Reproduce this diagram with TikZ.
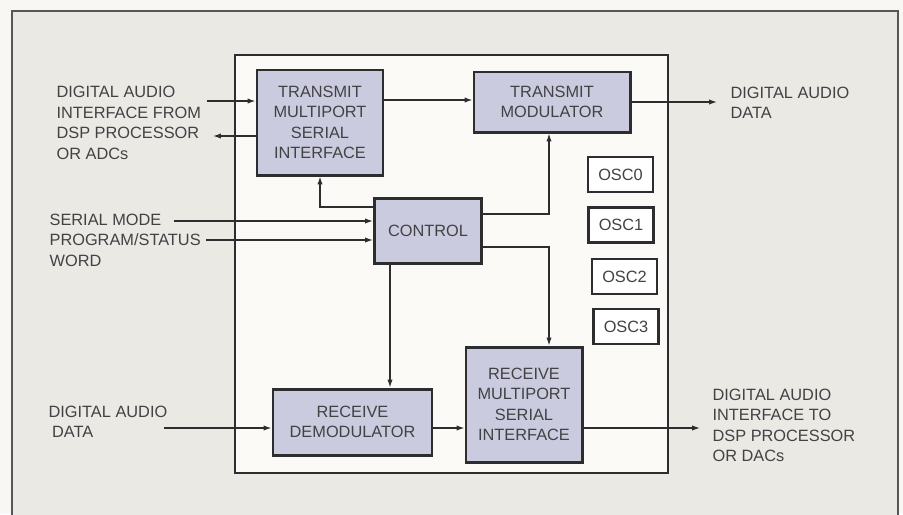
\documentclass[tikz,border=0pt]{standalone}
\usepackage{fontspec}
\setmainfont{Liberation Sans}
\usetikzlibrary{arrows.meta}

\definecolor{paper}{RGB}{248,247,243}
\definecolor{panel}{RGB}{235,233,228}
\definecolor{chipfill}{RGB}{251,250,246}
\definecolor{blockfill}{RGB}{203,203,223}
\definecolor{ink}{RGB}{45,45,48}

\tikzset{
  block/.style={draw=ink, line width=1.7pt, fill=blockfill, align=center,
    inner sep=0pt, text=ink!90},
  oscbox/.style={draw=ink, line width=1.5pt, fill=white, inner sep=0pt,
    minimum width=13mm, minimum height=7mm, text=ink!90},
  sidetext/.style={anchor=west, align=left, inner sep=0pt, text=ink!90},
}

\begin{document}
\begin{tikzpicture}[x=0.2mm, y=-0.2mm, >={Latex[length=4.5pt,width=3pt]},
    line width=0.7pt, draw=ink, font=\fontsize{9.3}{11.7}\selectfont]
    % Page and panel
    \fill[paper] (0,0) rectangle (903,514);
    \useasboundingbox (0,0) rectangle (903,514);
    \draw[fill=panel, line width=0.7pt, draw=ink!80] (12,11) rectangle (898,540);
    % Chip
    \draw[line width=1.2pt, fill=chipfill] (235,55) rectangle (668,473);

    % Blocks
    \node[block, minimum width=25.2mm, minimum height=21mm] (tmsi) at (320,122.5)
        {TRANSMIT\\MULTIPORT\\SERIAL\\INTERFACE};
    \node[block, minimum width=31.2mm, minimum height=12mm] (tmod) at (552,102)
        {TRANSMIT\\MODULATOR};
    \node[block, minimum width=21.4mm, minimum height=13mm] (ctrl) at (428,230.5)
        {CONTROL};
    \node[block, minimum width=23.2mm, minimum height=23mm] (rmsi) at (524,404.5)
        {RECEIVE\\MULTIPORT\\SERIAL\\INTERFACE};
    \node[block, minimum width=31.8mm, minimum height=13.2mm] (rdem) at (352.5,422)
        {RECEIVE\\DEMODULATOR};

    % Oscillators
    \node[oscbox] (osc0) at (620.5,174.5) {OSC0};
    \node[oscbox] (osc1) at (621,225) {OSC1};
    \node[oscbox] (osc2) at (624.5,276.5) {OSC2};
    \node[oscbox] (osc3) at (626,326.5) {OSC3};

    % Outside texts
    \node[sidetext] (txin) at (56,123)
        {DIGITAL AUDIO\\INTERFACE FROM\\DSP PROCESSOR\\OR ADCs};
    \node[sidetext] (mode) at (49,240)
        {SERIAL MODE\\PROGRAM/STATUS\\WORD};
    \node[sidetext] (rxin) at (48,422)
        {DIGITAL AUDIO\\\hspace{2pt}DATA};
    \node[sidetext] (txout) at (730,103)
        {DIGITAL AUDIO\\DATA};
    \node[sidetext] (rxout) at (712,425.5)
        {DIGITAL AUDIO\\INTERFACE TO\\DSP PROCESSOR\\OR DACs};

    % Free ends and buses
    \coordinate (in1) at (207,101);
    \coordinate (out1) at (213,136);
    \coordinate (dad) at (717,102);
    \coordinate (sm) at (174,221);
    \coordinate (ps) at (206,240);
    \coordinate (bus) at (549,0);
    \coordinate (vbus) at (390,0);
    \coordinate (dadin) at (164,428);
    \coordinate (dai) at (700,428);

    % Transmit path
    \draw[->] (in1) -- (tmsi.west |- in1);
    \draw[->] (tmsi.west |- out1) -- (out1);
    \draw[->] (tmsi.east |- 0,100) -- (tmod.west |- 0,100);
    \draw[->] (tmod.east) -- (dad);
    % Control
    \draw[->] (sm) -- (ctrl.west |- sm);
    \draw[->] (ps) -- (ctrl.west |- ps);
    \draw[->] ([yshift=4.7mm]ctrl.west) -| (tmsi.south);
    \draw[->] ([yshift=3.3mm]ctrl.east) -| (bus |- tmod.south);
    \draw[->] ([yshift=-3.3mm]ctrl.east) -| (bus |- rmsi.north);
    \draw[->] (vbus |- ctrl.south) -- (vbus |- rdem.north);
    % Receive path
    \draw[->] (dadin) -- (rdem.west |- dadin);
    \draw[->] (rdem.east |- dadin) -- (rmsi.west |- dadin);
    \draw[->] (rmsi.east |- dadin) -- (dai);
\end{tikzpicture}
\end{document}
